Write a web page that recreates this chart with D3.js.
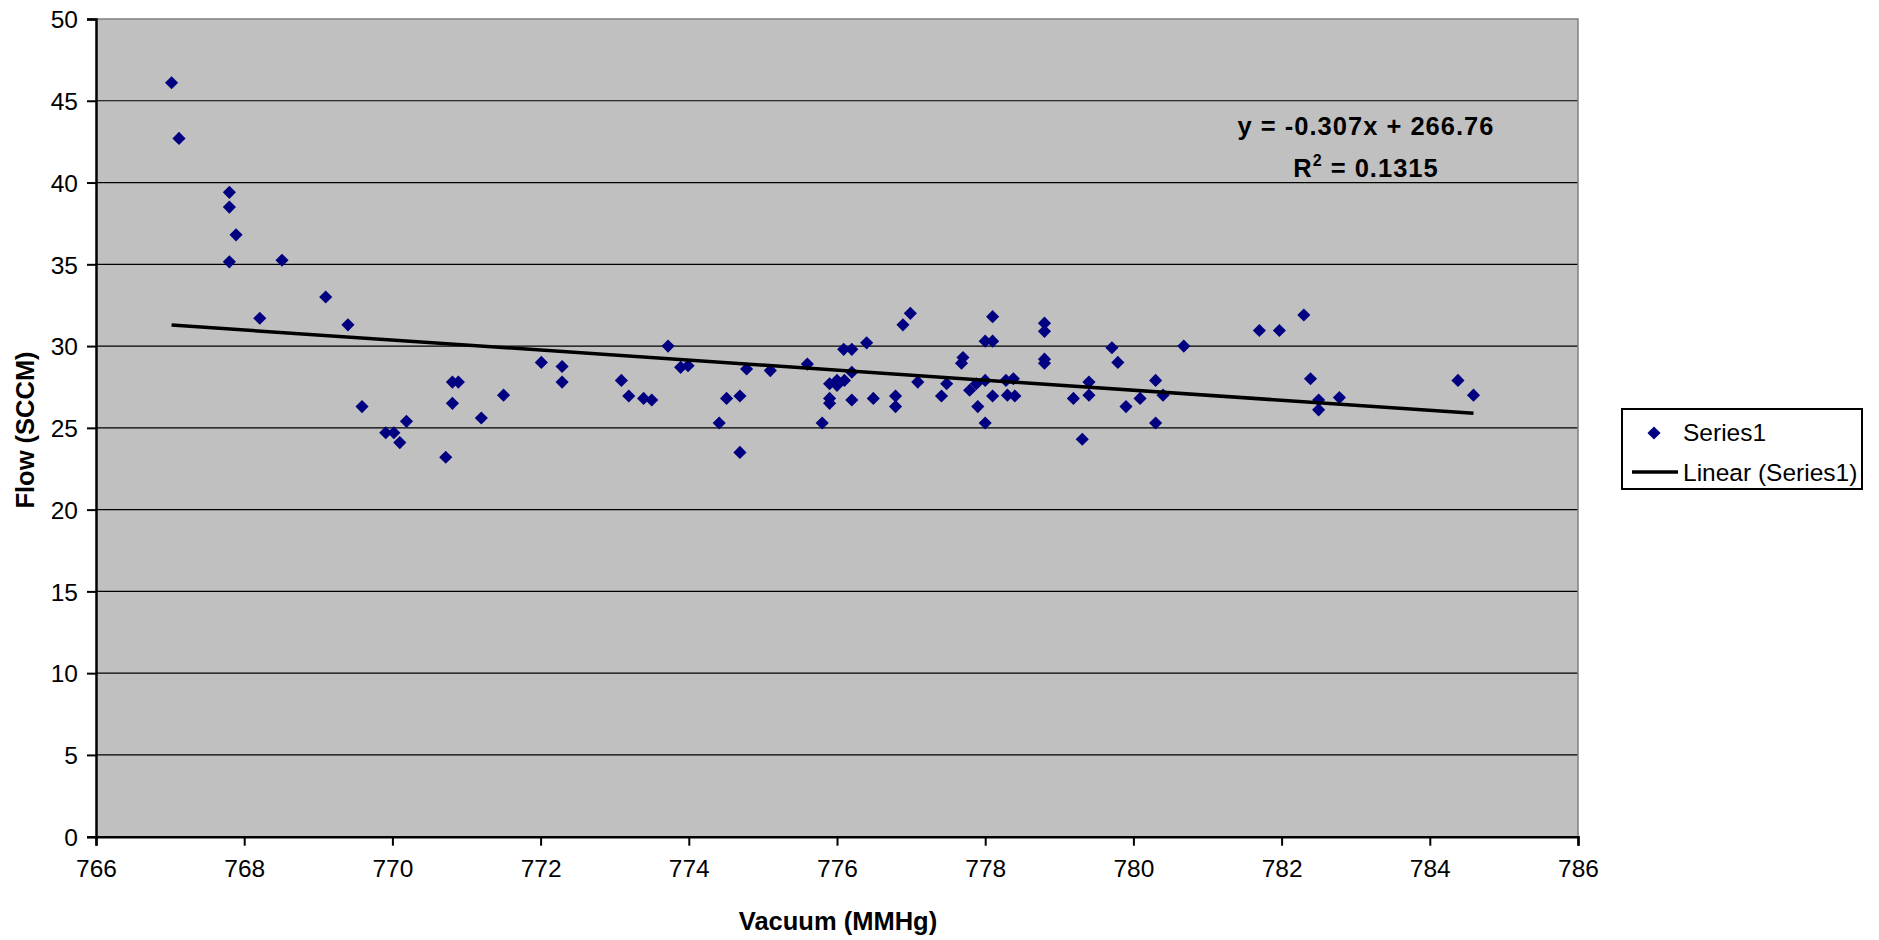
<!DOCTYPE html>
<html>
<head>
<meta charset="utf-8">
<script src="https://cdn.jsdelivr.net/npm/d3@7"></script>
<style>
  html, body { margin: 0; padding: 0; background: #fff; }
  svg { display: block; font-family: Arial, "Liberation Sans", sans-serif; }
</style>
</head>
<body>
<svg id="chart" width="1879" height="940"></svg>
<script>
// ---- data ----
const vacuum = [
  767.02, 767.12, 767.80, 767.80, 767.89, 767.80, 768.51, 769.10, 768.21, 769.40,
  769.59, 769.91, 770.02, 770.10, 770.19, 770.72, 770.81, 770.89, 770.81, 771.20,
  771.50, 772.01, 772.29, 772.29, 773.09, 773.19, 773.39, 773.50, 773.72, 773.89,
  773.99, 774.41, 774.51, 774.69, 774.69, 774.78, 775.10, 775.60, 775.80, 775.90,
  775.90, 775.90, 776.00, 776.00, 776.10, 776.09, 776.20, 776.20, 776.20, 776.40,
  776.49, 776.79, 776.79, 776.89, 776.99, 777.09, 777.41, 777.48, 777.68, 777.70,
  777.79, 777.88, 777.90, 778.00, 778.00, 778.00, 778.10, 778.10, 778.10, 778.28,
  778.38, 778.30, 778.40, 778.80, 778.80, 778.80, 778.80, 779.19, 779.31, 779.40,
  779.40, 779.71, 779.79, 779.90, 780.09, 780.30, 780.30, 780.40, 780.68, 781.70,
  781.97, 782.30, 782.39, 782.50, 782.50, 782.78, 784.38, 784.59
];
const flow = [
  46.1, 42.7, 39.4, 38.5, 36.8, 35.15, 35.25, 33.0, 31.7, 31.3,
  26.3, 24.7, 24.7, 24.1, 25.4, 23.2, 27.8, 27.8, 26.5, 25.6,
  27.0, 29.0, 28.75, 27.8, 27.9, 26.95, 26.8, 26.7, 30.0, 28.7,
  28.8, 25.3, 26.8, 26.95, 23.5, 28.6, 28.5, 28.9, 25.3, 27.7,
  26.8, 26.5, 27.9, 27.6, 27.9, 29.8, 29.8, 28.4, 26.7, 30.2,
  26.8, 26.95, 26.3, 31.3, 32.0, 27.8, 26.95, 27.7, 28.95, 29.3,
  27.3, 27.7, 26.3, 27.9, 30.3, 25.3, 31.8, 30.3, 26.95, 27.9,
  28.0, 27.0, 26.95, 31.4, 30.9, 29.2, 28.95, 26.8, 24.3, 27.8,
  27.0, 29.9, 29.0, 26.3, 26.8, 27.9, 25.3, 27.0, 30.0, 30.95,
  30.95, 31.9, 28.0, 26.7, 26.1, 26.85, 27.9, 27.0
];
const xTicks = [766, 768, 770, 772, 774, 776, 778, 780, 782, 784, 786];
const yTicks = [0, 5, 10, 15, 20, 25, 30, 35, 40, 45, 50];
const trendSlope = -0.307;
const trendIntercept = 266.76;
const equationLabel = "y = -0.307x + 266.76";
const r2Label = "0.1315";
const seriesName = "Series1";
const trendName = "Linear (Series1)";
const xTitle = "Vacuum (MMHg)";
const yTitle = "Flow (SCCM)";

// ---- layout ----
const L = 96, R = 1578, T = 19, B = 836.7;
const svg = d3.select("#chart");
const x = d3.scaleLinear().domain([766, 786]).range([L, R]);
const y = d3.scaleLinear().domain([0, 50]).range([B, T]);

// plot background
svg.append("rect").attr("x", L).attr("y", T).attr("width", R - L).attr("height", B - T)
  .attr("fill", "#C0C0C0");

// gridlines
svg.append("g").selectAll("line").data(yTicks.filter(d => d > 0 && d < 50)).join("line")
  .attr("x1", L).attr("x2", R).attr("y1", d => y(d)).attr("y2", d => y(d))
  .attr("stroke", "#000").attr("stroke-width", 1.2);

// top & right border (grey)
svg.append("path").attr("d", `M${L},${T}H${R}V${B}`).attr("fill", "none")
  .attr("stroke", "#808080").attr("stroke-width", 1.5);

// axes
const xAxis = d3.axisBottom(x).tickValues(xTicks).tickSize(9).tickPadding(14).tickFormat(d3.format("d"));
const yAxis = d3.axisLeft(y).tickValues(yTicks).tickSize(9).tickPadding(9).tickFormat(d3.format("d"));
const gx = svg.append("g").attr("transform", `translate(0,${B})`).call(xAxis);
const gy = svg.append("g").attr("transform", `translate(${L},0)`).call(yAxis);
[gx, gy].forEach(g => {
  g.select(".domain").attr("stroke", "#000").attr("stroke-width", 2.5);
  g.selectAll(".tick line").attr("stroke", "#000").attr("stroke-width", 2);
  g.selectAll(".tick text").attr("fill", "#000").attr("font-size", 24.5)
    .attr("font-family", "Arial, 'Liberation Sans', sans-serif");
});
gy.selectAll(".tick text").attr("dy", "0.36em");

// points
const pts = vacuum.map((v, i) => ({ v, f: flow[i] }));
const diamond = d3.symbol().type(d3.symbolDiamond2 || d3.symbolDiamond).size(110);
svg.append("g").selectAll("path").data(pts).join("path")
  .attr("d", diamond)
  .attr("transform", d => `translate(${x(d.v)},${y(d.f)})`)
  .attr("fill", "#000080");

// trend line
const xMin = d3.min(vacuum), xMax = d3.max(vacuum);
const trend = [xMin, xMax].map(v => [x(v), y(trendSlope * v + trendIntercept)]);
svg.append("path").attr("d", d3.line()(trend)).attr("stroke", "#000")
  .attr("stroke-width", 3.5).attr("fill", "none");

// equation labels
svg.append("text").attr("x", 1366).attr("y", 135).attr("text-anchor", "middle")
  .attr("font-size", 25.5).attr("font-weight", "bold").attr("fill", "#000")
  .attr("letter-spacing", 1).text(equationLabel);
const r2 = svg.append("text").attr("x", 1366).attr("y", 177).attr("text-anchor", "middle")
  .attr("font-size", 25.5).attr("font-weight", "bold").attr("fill", "#000")
  .attr("letter-spacing", 1);
r2.append("tspan").text("R");
r2.append("tspan").attr("font-size", 16).attr("dy", -11).text("2");
r2.append("tspan").attr("dy", 11).text(" = " + r2Label);

// axis titles
svg.append("text").attr("x", 838).attr("y", 930).attr("text-anchor", "middle")
  .attr("font-size", 25.5).attr("font-weight", "bold").attr("fill", "#000").text(xTitle);
svg.append("text").attr("transform", "translate(34,430) rotate(-90)").attr("text-anchor", "middle")
  .attr("font-size", 25.5).attr("font-weight", "bold").attr("fill", "#000").text(yTitle);

// legend
const lg = svg.append("g");
lg.append("rect").attr("x", 1622).attr("y", 409).attr("width", 240).attr("height", 80)
  .attr("fill", "#fff").attr("stroke", "#000").attr("stroke-width", 2);
lg.append("path").attr("d", diamond).attr("transform", "translate(1654,433)").attr("fill", "#000080");
lg.append("text").attr("x", 1683).attr("y", 441).attr("font-size", 24.5).attr("fill", "#000").text(seriesName);
lg.append("line").attr("x1", 1632).attr("x2", 1678).attr("y1", 472).attr("y2", 472)
  .attr("stroke", "#000").attr("stroke-width", 3.5);
lg.append("text").attr("x", 1683).attr("y", 481).attr("font-size", 24.5).attr("fill", "#000").text(trendName);
</script>
</body>
</html>
